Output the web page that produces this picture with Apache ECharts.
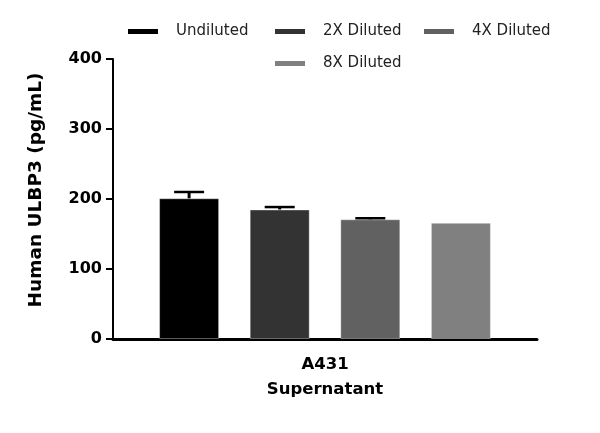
<!DOCTYPE html>
<html lang="en">
<head>
    <meta charset="UTF-8">
    <title>Human ULBP3</title>
    <script src="https://cdn.jsdelivr.net/npm/echarts@6/dist/echarts.min.js"></script>
    <style>
        body { margin: 0; background: #fff; }
    </style>
</head>
<body>
    <div id="main" style="width: 600px;height:433px;"></div>
    <script>
        // data
        var categories = ['A431\nSupernatant'];
        var seriesNames = ['Undiluted', '2X Diluted', '4X Diluted', '8X Diluted'];
        var means = [201, 185, 171, 166];
        var errHigh = [210, 188.5, 172.5, 166];
        var yTicks = [0, 100, 200, 300, 400];
        var colors = ['#000000', '#333333', '#616161', '#808080'];

        var font = 'DejaVu Sans';
        var barW = 60;
        var barGap = '51%';

        var series = [];
        for (var i = 0; i < seriesNames.length; i++) {
            series.push({
                name: seriesNames[i],
                type: 'bar',
                barWidth: barW,
                barGap: barGap,
                itemStyle: { color: colors[i], borderColor: 'rgba(255,255,255,0.35)', borderWidth: 1 },
                data: [means[i]]
            });
        }

        // error bars (upper only), skipped where there is no spread
        series.push({
            type: 'custom',
            name: 'err',
            z: 10,
            silent: true,
            data: seriesNames.map(function (n, i) { return [0, means[i], errHigh[i], i]; }),
            renderItem: function (params, api) {
                var idx = api.value(3);
                if (api.value(2) <= api.value(1)) return null;
                var layout = api.barLayout({ barWidth: barW, barGap: barGap, count: seriesNames.length });
                var base = api.coord([api.value(0), api.value(1)]);
                var top = api.coord([api.value(0), api.value(2)]);
                var x = base[0] + layout[idx].offsetCenter;
                var hw = 15;
                return {
                    type: 'group',
                    children: [
                        { type: 'line', shape: { x1: x, y1: base[1], x2: x, y2: top[1] }, style: { stroke: '#000', lineWidth: 3 } },
                        { type: 'line', shape: { x1: x - hw, y1: top[1], x2: x + hw, y2: top[1] }, style: { stroke: '#000', lineWidth: 2.5 } }
                    ]
                };
            }
        });

        // one legend block per entry so they sit on the reference's grid
        var legendPos = [[128, 24], [275, 24], [424, 24], [275, 56]];
        var legends = seriesNames.map(function (n, i) {
            return {
                data: [n],
                left: legendPos[i][0], top: legendPos[i][1],
                padding: 0,
                itemWidth: 30, itemHeight: 5,
                icon: 'rect',
                itemStyle: { borderWidth: 0 },
                textStyle: { fontFamily: font, fontSize: 15, color: '#222', padding: [0, 0, 0, 13] }
            };
        });

        var option = {
            animation: false,
            grid: { left: 113, right: 63, top: 59, bottom: 94 },
            legend: legends,
            xAxis: {
                type: 'category',
                data: categories,
                axisLine: { lineStyle: { color: '#000', width: 3 } },
                axisTick: { alignWithLabel: true, length: 7, lineStyle: { color: '#000', width: 2 } },
                axisLabel: {
                    fontFamily: font, fontSize: 16.5, fontWeight: 'bold', color: '#000',
                    lineHeight: 25, margin: 13
                }
            },
            yAxis: {
                type: 'value',
                min: yTicks[0], max: yTicks[yTicks.length - 1], interval: 100,
                name: 'Human ULBP3 (pg/mL)',
                nameLocation: 'middle',
                nameGap: 67,
                nameTextStyle: { fontFamily: font, fontSize: 18.5, fontWeight: 'bold', color: '#000', padding: [0, 0, 0, 18] },
                axisLine: { show: true, lineStyle: { color: '#000', width: 2 } },
                axisTick: { show: true, length: 7, lineStyle: { color: '#000', width: 2 } },
                splitLine: { show: false },
                axisLabel: { fontFamily: font, fontSize: 16, fontWeight: 'bold', color: '#000', margin: 11 }
            },
            series: series
        };

        var myChart = echarts.init(document.getElementById('main'));
        myChart.setOption(option);
    </script>
</body>
</html>
